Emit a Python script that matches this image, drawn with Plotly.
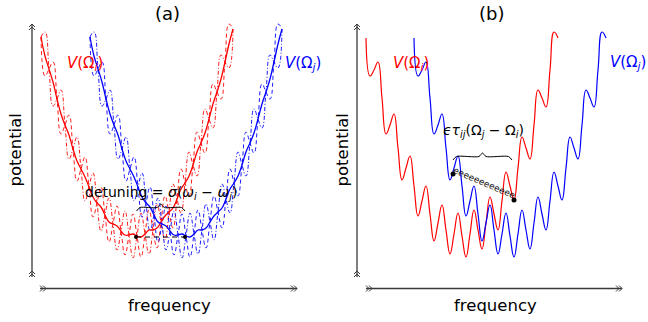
import math
import plotly.graph_objects as go

# ---------------- data (pixel frame of the 648x322 picture) -------------
# panel (a): sample positions and curve profiles (red / blue share the profile, blue is shifted)
a_red_x = [41, 45, 49, 53, 57, 61, 65, 69, 73, 77, 81, 85, 89, 93, 97, 101, 105, 109, 113, 117,
           121, 125, 129, 133, 137, 141, 145, 149, 153, 157, 161, 165, 169, 173, 177, 181, 185,
           189, 193, 197, 201, 205, 209, 213, 217, 221, 225, 229, 233]
a_blue_x = [90, 94, 98, 102, 106, 110, 114, 118, 122, 126, 130, 134, 138, 142, 146, 150, 154,
            158, 162, 166, 170, 174, 178, 182, 186, 190, 194, 198, 202, 206, 210, 214, 218, 222,
            226, 230, 234, 238, 242, 246, 250, 254, 258, 262, 266, 270, 274, 278, 282]
a_solid_y = [37, 56, 69, 82, 99, 114, 125, 135, 149, 161, 169, 177, 187, 197, 203, 207, 215, 222,
             224, 226, 231, 235, 235, 234, 236, 237, 234, 230, 230, 228, 222, 216, 212, 208, 199,
             189, 183, 176, 165, 152, 143, 133, 119, 104, 92, 79, 62, 44, 29]
a_dash_y = [37, 76, 69, 62, 99, 134, 125, 115, 149, 181, 169, 157, 187, 217, 203, 187, 215, 242,
            224, 206, 231, 255, 235, 214, 236, 257, 234, 210, 230, 248, 222, 196, 212, 228, 199,
            169, 183, 196, 165, 132, 143, 153, 119, 84, 92, 99, 62, 24, 29]
a_dashdot_y = [37, 32, 69, 106, 99, 90, 125, 159, 149, 137, 169, 201, 187, 173, 203, 231, 215,
               198, 224, 250, 231, 211, 235, 258, 236, 213, 234, 254, 230, 204, 222, 240, 212,
               184, 199, 213, 183, 152, 165, 176, 143, 109, 119, 128, 92, 55, 62, 68, 29]
# minima of the two mean potentials (detuning marker)
detune_x = [136, 185]
detune_y = [237, 237]

# panel (b)
b_red_x = [366, 370, 374, 378, 382, 386, 390, 394, 398, 402, 406, 410, 414, 418, 422, 426, 430,
           434, 438, 442, 446, 450, 454, 458, 462, 466, 470, 474, 478, 482, 486, 490, 494, 498,
           502, 506, 510, 514, 518, 522, 526, 530, 534, 538, 542, 546, 550, 554, 558]
b_blue_x = [414, 418, 422, 426, 430, 434, 438, 442, 446, 450, 454, 458, 462, 466, 470, 474, 478,
            482, 486, 490, 494, 498, 502, 506, 510, 514, 518, 522, 526, 530, 534, 538, 542, 546,
            550, 554, 558, 562, 566, 570, 574, 578, 582, 586, 590, 594, 598, 602, 606]
b_y = [38, 76, 70, 62, 98, 134, 125, 114, 148, 180, 168, 156, 186, 216, 201, 186, 214, 241, 223,
       205, 230, 254, 234, 213, 236, 257, 234, 210, 230, 249, 223, 197, 214, 230, 201, 172, 186,
       200, 168, 137, 148, 159, 125, 90, 98, 107, 70, 32, 38]
# coupling spring end points (blue well -> red well)
spring_x = [453, 514]
spring_y = [174, 200]

# axes frames: [x of y-axis, x-axis start, x-axis end], y-axis top/bottom, x-axis height
frame_yaxis_x = [32, 357]
frame_xaxis_x0 = [40, 366]
frame_xaxis_x1 = [297, 622]
frame_top, frame_bottom, frame_xaxis_y = 24, 277, 288.5

RED = "#ff0000"
BLUE = "#0000ff"
AX = "#3a3a3a"
FONT = "DejaVu Sans"

fig = go.Figure()


def line(x, y, color, dash="solid", width=1.2, shape="spline", smoothing=1.3):
    fig.add_trace(go.Scatter(x=x, y=y, mode="lines", hoverinfo="skip",
                             line=dict(color=color, width=width, dash=dash, shape=shape,
                                       smoothing=smoothing)))


# ---------- axes with double chevrons ----------
def chevrons(xc, yc, direction):
    xs, ys = [], []
    for off in (0, 3):
        if direction == "right":
            xs += [xc - off - 3, xc - off, xc - off - 3, None]
            ys += [yc - 3, yc, yc + 3, None]
        else:  # up
            xs += [xc - 3, xc, xc + 3, None]
            ys += [yc + off + 3, yc + off, yc + off + 3, None]
    fig.add_trace(go.Scatter(x=xs, y=ys, mode="lines", hoverinfo="skip",
                             line=dict(color=AX, width=1)))


for i in range(2):
    line([frame_yaxis_x[i], frame_yaxis_x[i]], [frame_bottom, frame_top], AX, width=1.3,
         shape="linear")
    line([frame_xaxis_x0[i], frame_xaxis_x1[i]], [frame_xaxis_y, frame_xaxis_y], AX, width=1.3,
         shape="linear")
    chevrons(frame_xaxis_x1[i], frame_xaxis_y, "right")
    chevrons(frame_xaxis_x0[i] + 6, frame_xaxis_y, "right")
    chevrons(frame_yaxis_x[i], frame_top, "up")
    chevrons(frame_yaxis_x[i], frame_bottom - 6, "up")

# ---------- panel (a) ----------
DASH = "4px,3px"
DASHDOT = "4px,2px,1px,2px"
line(a_red_x, a_dash_y, RED, DASH, width=0.9)
line(a_red_x, a_dashdot_y, RED, DASHDOT, width=0.9)
line(a_blue_x, a_dash_y, BLUE, DASH, width=0.9)
line(a_blue_x, a_dashdot_y, BLUE, DASHDOT, width=0.9)
line(a_red_x, a_solid_y, RED, width=1.3)
line(a_blue_x, a_solid_y, BLUE, width=1.3)
fig.add_trace(go.Scatter(x=detune_x, y=detune_y, mode="lines+markers", hoverinfo="skip",
                         line=dict(color="black", width=1, dash="5px,4px"),
                         marker=dict(color="black", size=4)))


def brace(x1, x2, yb, h):
    xm = (x1 + x2) / 2
    xs = [x1, x1 + h, xm - h, xm, xm + h, x2 - h, x2]
    ys = [yb + h, yb, yb, yb - h, yb, yb, yb + h]
    fig.add_trace(go.Scatter(x=xs, y=ys, mode="lines", hoverinfo="skip",
                             line=dict(color="black", width=1, shape="spline", smoothing=0.7)))


brace(detune_x[0] + 0.5, detune_x[1], 207.5, 3.5)

# ---------- panel (b) ----------
line(b_red_x, b_y, RED)
line(b_blue_x, b_y, BLUE)
brace(spring_x[0], spring_x[1] - 2, 156.5, 3.5)
sx = (spring_x[0] + spring_x[1]) / 2
sy = (spring_y[0] + spring_y[1]) / 2
ang = math.degrees(math.atan2(spring_y[1] - spring_y[0], spring_x[1] - spring_x[0]))

ann = []


def text(x, y, s, size, color="black", angle=0, family=FONT):
    ann.append(dict(x=x, y=y, xref="x", yref="y", text=s, showarrow=False, textangle=angle,
                    xanchor="center", yanchor="middle",
                    font=dict(family=family, size=size, color=color)))


# the coil drawn between the two wells
text(sx + 1, sy - 4, "e" * 12, 9, color="#111111", angle=ang)
fig.add_trace(go.Scatter(x=spring_x, y=spring_y, mode="markers", hoverinfo="skip",
                         marker=dict(color="black", size=5)))

text(167.5, 13, "(a)", 18)
text(491.5, 13, "(b)", 18)
for xl in (14.5, 341.5):
    text(xl, 150, "potential", 16.5, angle=-90)
for xc in (169, 495):
    text(xc, 305, "frequency", 16.5)
text(85, 63, "<i>V</i>(Ω<sub><i>i</i></sub>)", 15, RED)
text(302.5, 63, "<i>V</i>(Ω<sub><i>j</i></sub>)", 15, BLUE)
text(411, 63, "<i>V</i>(Ω<sub><i>i</i></sub>)", 15, RED)
text(628, 62, "<i>V</i>(Ω<sub><i>j</i></sub>)", 15, BLUE)
text(161, 193, "detuning = <i>σ</i>(<i>ω</i><sub><i>i</i></sub> − <i>ω</i><sub><i>j</i></sub>)", 14)
text(483.5, 131, "<i>ϵτ</i><sub><i>ij</i></sub>(Ω<sub><i>j</i></sub> − Ω<sub><i>i</i></sub>)", 14)

fig.update_layout(
    width=648, height=322, margin=dict(l=0, r=0, t=0, b=0),
    paper_bgcolor="white", plot_bgcolor="white", showlegend=False,
    xaxis=dict(range=[0, 648], visible=False, fixedrange=True),
    yaxis=dict(range=[322, 0], visible=False, fixedrange=True),
    annotations=ann,
)
fig.write_html("out.html")
